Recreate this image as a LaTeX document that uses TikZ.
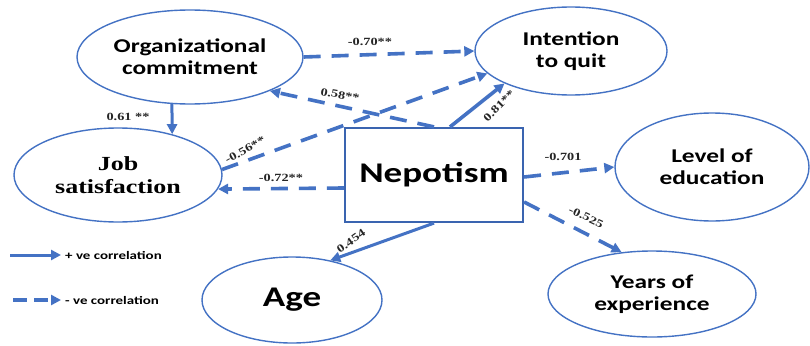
\documentclass[tikz,border=0pt]{standalone}
\usepackage{fontspec}
\usetikzlibrary{shapes.geometric,arrows.meta}
\newfontfamily\sanslab[FakeStretch=1.3]{Carlito}
\newfontfamily\seriflab[FakeStretch=1.3]{Liberation Serif}
\definecolor{lineblue}{HTML}{4472C4}
\definecolor{boxblue}{HTML}{3A64B0}
\begin{document}
\begin{tikzpicture}[x=1pt,y=1pt,
  ell/.style={ellipse, draw=lineblue, line width=1.4pt, inner sep=0pt, align=center,
    font=\sanslab\bfseries\fontsize{19.5}{22}\selectfont},
  serifell/.style={ellipse, draw=lineblue, line width=1.4pt, inner sep=0pt, align=center,
    font=\seriflab\bfseries\fontsize{20}{23}\selectfont},
  posarrow/.style={draw=lineblue, line width=3pt, -{Triangle[length=10pt,width=10pt]}},
  negarrow/.style={posarrow, line width=3.6pt, dash pattern=on 17pt off 11pt},
  lab/.style={font=\seriflab\bfseries\fontsize{11}{12}\selectfont, text=black!85, inner sep=0.5pt},
  leg/.style={font=\sanslab\bfseries\fontsize{11.5}{13}\selectfont, anchor=west, inner sep=1pt}]
\fill[white] (0,0) rectangle (810,-345);
\useasboundingbox (0,0) rectangle (810,-345);

% nodes
\node[ell, minimum width=226, minimum height=94] (org) at (190,-57) {Organizational\\commitment};
\node[serifell, minimum width=208, minimum height=94] (job) at (118,-175) {Job\\satisfaction};
\node[ell, minimum width=192, minimum height=88] (int) at (571,-51) {Intention\\to quit};
\node[ell, minimum width=194, minimum height=108] (edu) at (712,-167) {Level of\\education};
\node[ell, minimum width=180, minimum height=86,
  font=\sanslab\bfseries\fontsize{28.5}{30}\selectfont] (age) at (292,-300) {Age};
\node[ell, minimum width=208, minimum height=86] (yrs) at (652,-294) {Years of\\experience};
\node[draw=boxblue, line width=2.2pt, minimum width=178, minimum height=94, inner sep=0pt,
  font=\sanslab\bfseries\fontsize{28.5}{30}\selectfont] (nep) at (434,-175) {Nepotism};

% connectors
\draw[negarrow] (org.east) -- (int.west);
\node[lab] (l70) at (370,-42) {-0.70**};

\draw[negarrow] (nep.north) -- (org.-23);
\node[lab, rotate=-10] (l58) at (340,-95) {0.58**};

\draw[negarrow] (job.3) -- (int.195);
\node[lab, rotate=29] (l56) at (245,-150) {-0.56**};

\draw[posarrow, line width=3.6pt] ([xshift=16pt]nep.north) -- (int.206);
\node[lab, rotate=45] (l81) at (499,-106) {0.81**};

\draw[negarrow] ([yshift=-13pt]nep.west) -- (job.-8);
\node[lab] (l72) at (281,-178) {-0.72**};

\draw[posarrow] (org.249) -- (job.37);
\node[lab] (l61) at (128,-117) {0.61 **};

\draw[negarrow] ([yshift=-2pt]nep.east) -- (edu.west);
\node[lab] (l701) at (563,-157) {-0.701};

\draw[negarrow] ([yshift=-27pt]nep.east) -- (yrs.126);
\node[lab, rotate=-25] (l525) at (586,-217) {-0.525};

\draw[posarrow] (nep.south) -- (age.46);
\node[lab, rotate=35] (l454) at (351,-241) {0.454};

% legend
\node[leg] (leg1) at (64,-255) {+ ve correlation};
\coordinate (leg1s) at (10,-255);
\draw[posarrow] (leg1s) -- ([xshift=-3pt]leg1.west);
\node[leg] (leg2) at (64,-300) {- ve correlation};
\coordinate (leg2s) at (13,-300);
\draw[posarrow, line width=3.6pt, dash pattern=on 14pt off 7pt] (leg2s) -- ([xshift=-3pt]leg2.west);
\end{tikzpicture}
\end{document}
